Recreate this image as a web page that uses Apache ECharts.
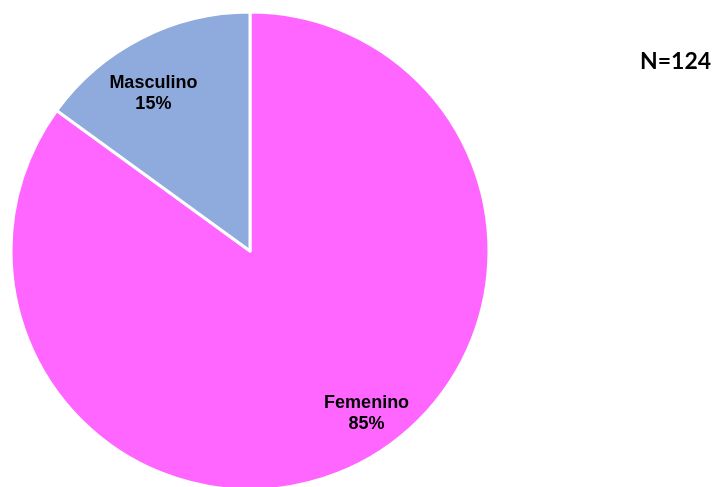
<!DOCTYPE html>
<html>
<head>
<meta charset="utf-8">
<script src="https://cdn.jsdelivr.net/npm/echarts@6/dist/echarts.min.js"></script>
<style>
  html, body { margin: 0; padding: 0; background: #ffffff; }
  #chart { width: 716px; height: 487px; }
</style>
</head>
<body>
<div id="chart"></div>
<script>
// Sex distribution of respondents (percent)
const categories = ['Femenino', 'Masculino'];
const percents = [85, 15];
const sliceColors = ['#FF66FF', '#8FAADC'];
const sampleLabel = 'N=124';

// Nudges that move each inside label toward the rim
const labelShift = [[61, 53], [-41, -48]];

const chart = echarts.init(document.getElementById('chart'), null, { renderer: 'canvas' });

chart.setOption({
  animation: false,
  backgroundColor: '#ffffff',
  title: {
    text: sampleLabel,
    left: 635,
    top: 45,
    textStyle: {
      fontFamily: 'Lato',
      fontWeight: 'bold',
      fontSize: 23,
      color: '#000000'
    }
  },
  series: [{
    type: 'pie',
    center: [250, 251],
    radius: [0, 239],
    startAngle: 90,
    clockwise: true,
    silent: true,
    emphasis: { disabled: true },
    itemStyle: { borderColor: '#ffffff', borderWidth: 3 },
    label: {
      show: true,
      position: 'inside',
      formatter: p => p.name + '\n' + p.value + '%',
      fontFamily: '"Liberation Sans", Arial, sans-serif',
      fontWeight: 'bold',
      fontSize: 18,
      lineHeight: 21,
      color: '#000000',
      align: 'center'
    },
    labelLine: { show: false },
    labelLayout: params => ({
      dx: labelShift[params.dataIndex][0],
      dy: labelShift[params.dataIndex][1]
    }),
    data: categories.map((c, i) => ({
      name: c,
      value: percents[i],
      itemStyle: { color: sliceColors[i] }
    }))
  }]
});
</script>
</body>
</html>
